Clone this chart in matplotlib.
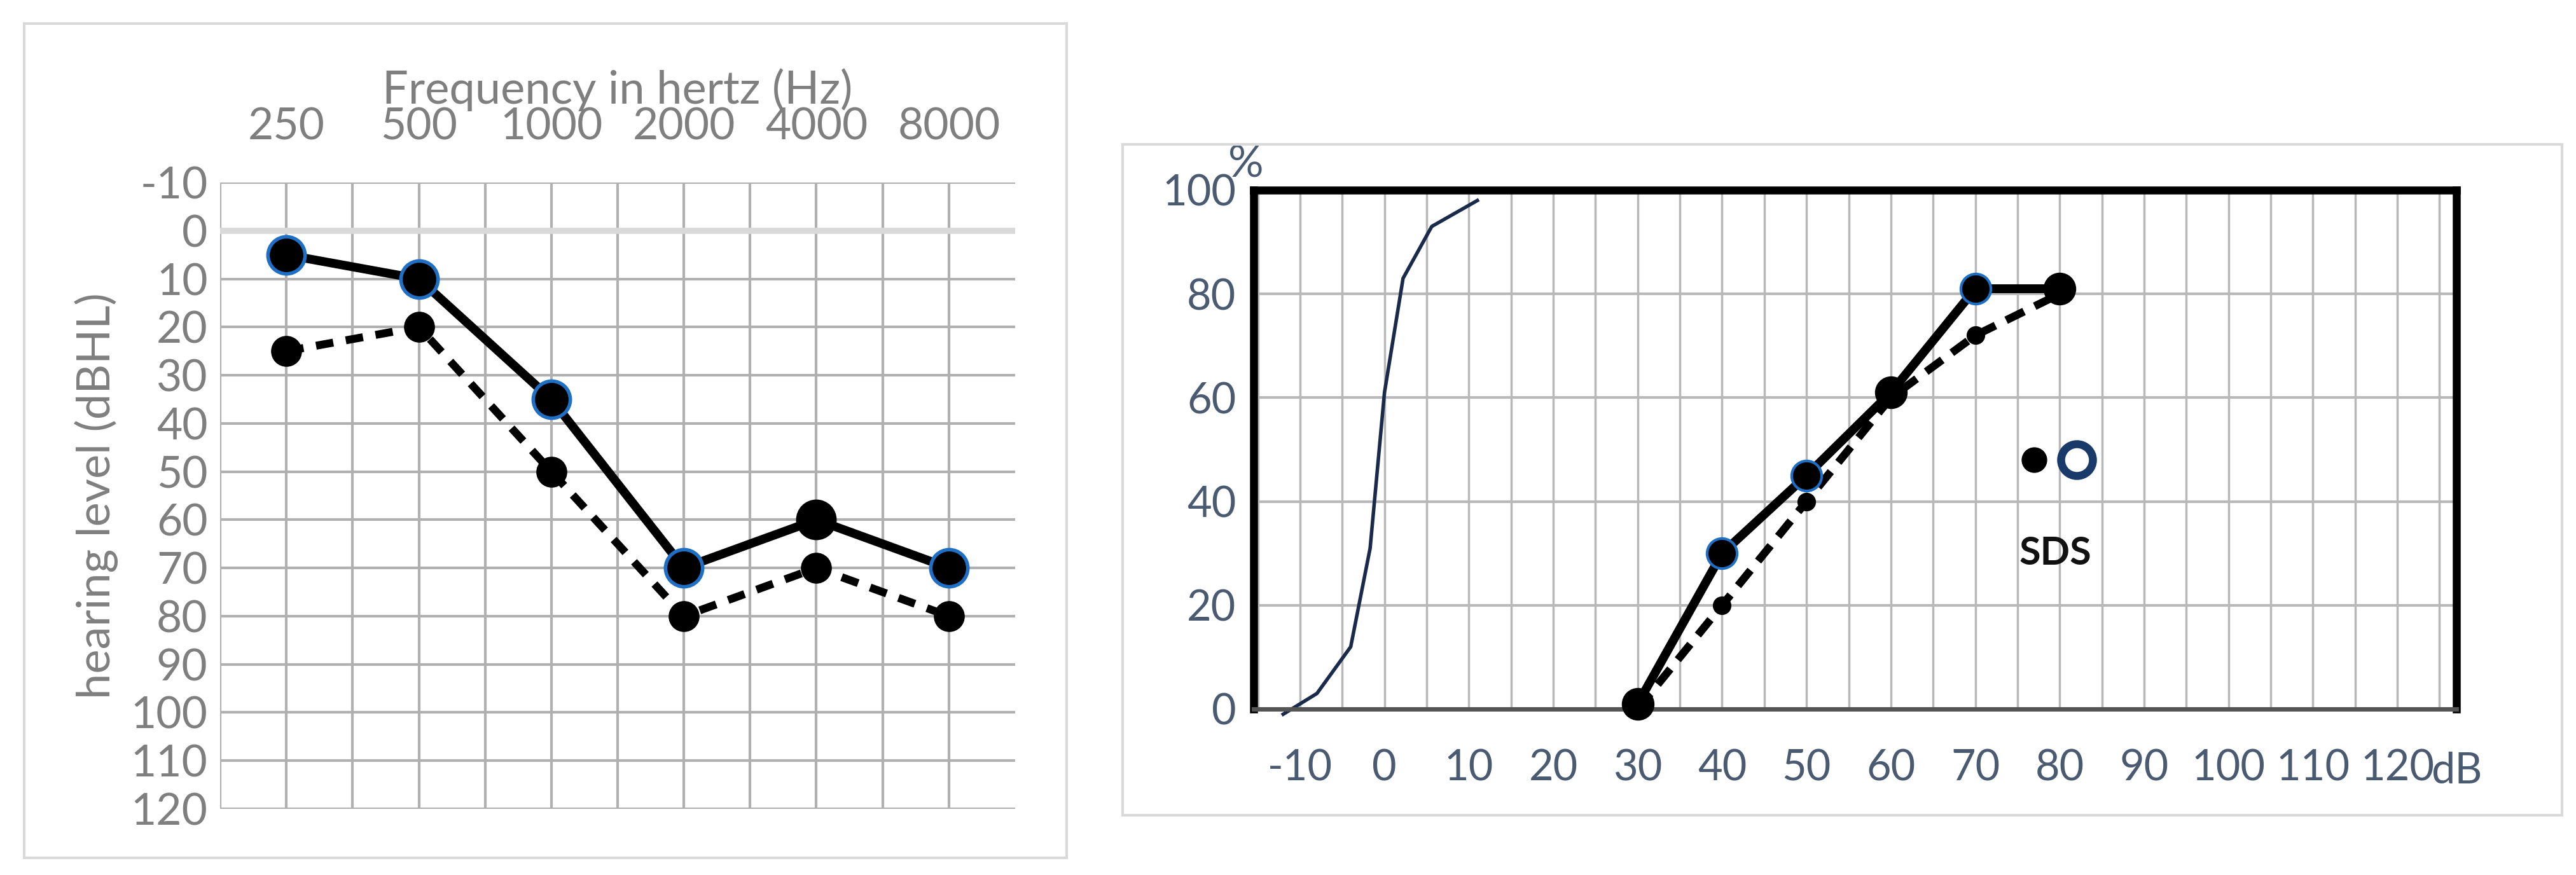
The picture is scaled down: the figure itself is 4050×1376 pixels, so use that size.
import matplotlib
matplotlib.use("Agg")
import matplotlib.pyplot as plt
from matplotlib.patches import Rectangle

W, H = 4050, 1376
# ---- left: audiogram data ----
freqs = ["250", "500", "1000", "2000", "4000", "8000"]
air_solid = [5, 10, 35, 70, 60, 70]
air_blue = [True, True, True, True, False, True]
bone_dashed = [25, 20, 50, 80, 70, 80]
yticks_l = list(range(-10, 121, 10))

# ---- right: speech audiometry data ----
norm_x = [-12, -8, -4, -1.7, 0, 2.2, 5.6, 11]
norm_y = [-1, 3, 12, 31, 61, 83, 93, 98]
sds_x = [30, 40, 50, 60, 70, 80]
sds_solid = [1, 30, 45, 61, 81, 81]
sds_blue = [False, True, True, False, True, False]
sds_dashed = [0, 20, 40, 60, 72, 80]
xticks_r = list(range(-10, 121, 10))
yticks_r = [0, 20, 40, 60, 80, 100]

plt.rcParams['font.family'] = ['Lato', 'DejaVu Sans']
plt.rcParams['axes.unicode_minus'] = False
fig = plt.figure(figsize=(W / 100, H / 100), dpi=100)

def ax_px(x0, y0, x1, y1):
    return fig.add_axes([x0 / W, 1 - y1 / H, (x1 - x0) / W, (y1 - y0) / H])

# panel borders
fig.patches.append(Rectangle((38 / W, 1 - 1349 / H), (1677 - 38) / W, (1349 - 37) / H,
                             transform=fig.transFigure, fill=False, ec="#d9d9d9", lw=3))
fig.patches.append(Rectangle((1765 / W, 1 - 1282 / H), (4028 - 1765) / W, (1282 - 227) / H,
                             transform=fig.transFigure, fill=False, ec="#d9d9d9", lw=3))

gray = "#7f7f7f"
ax = ax_px(346, 287, 1596, 1272)
xs = list(range(1, len(freqs) + 1))
ax.set_xlim(0.5, 6.5)
ax.set_ylim(120, -10)
for v in [i * 0.5 for i in range(1, 13)]:
    ax.axvline(v, color="#b0b0b0", lw=3, zorder=0)
for v in yticks_l:
    ax.axhline(v, color="#d9d9d9" if v == 0 else "#b0b0b0", lw=7 if v == 0 else 3, zorder=0)
for s in ax.spines.values():
    s.set_visible(False)
ax.plot(xs, bone_dashed, color="black", lw=9, ls=(0, (2.2, 1.6)), marker="o", ms=34, zorder=2)
ax.plot(xs, air_solid, color="black", lw=10, zorder=3)
for x, y, b in zip(xs, air_solid, air_blue):
    ax.plot(x, y, "o", color="black", ms=42, mec="#1f6fc5" if b else "black", mew=4, zorder=4)
ax.xaxis.tick_top()
ax.set_xticks(xs)
ax.set_xticklabels(freqs)
ax.set_yticks(yticks_l)
ax.tick_params(length=0, labelsize=50, colors=gray, pad=14)
ax.tick_params(axis="x", pad=40)
ax.xaxis.set_label_position("top")
ax.set_xlabel("Frequency in hertz (Hz)", fontsize=52, color=gray, labelpad=4)
ax.set_ylabel("hearing level (dBHL)", fontsize=52, color=gray, labelpad=14)

# ---- right panel ----
tc = "#4a5a70"
ax2 = ax_px(1971, 299, 3862, 1115)
ax2.set_xlim(-15.5, 127)
ax2.set_ylim(0, 100)
for v in range(-15, 127, 5):
    ax2.axvline(v, color="#b8b8b8", lw=2.5, zorder=0)
for v in yticks_r[1:-1]:
    ax2.axhline(v, color="#b8b8b8", lw=3, zorder=0)
for k, s in ax2.spines.items():
    s.set_linewidth(9)
ax2.spines["bottom"].set_linewidth(5)
ax2.spines["bottom"].set_color("#555555")
ax2.plot(norm_x, norm_y, color="#1a2a4a", lw=4, zorder=2, clip_on=False)
ax2.plot(sds_x, sds_dashed, color="black", lw=9, ls=(0, (2.5, 1.5)), marker="o", ms=20, zorder=2, clip_on=False)
ax2.plot(sds_x, sds_solid, color="black", lw=10, zorder=3, clip_on=False)
for x, y, b in zip(sds_x, sds_solid, sds_blue):
    ax2.plot(x, y, "o", color="black", ms=34, mec="#1f6fc5" if b else "black", mew=3, zorder=4, clip_on=False)
ax2.plot(77, 48, "o", color="black", ms=28, zorder=4)
ax2.plot(82, 48, "o", mfc="white", mec="#1a3a6a", ms=36, mew=9, zorder=4)
ax2.text(79.5, 30, "SDS", fontsize=44, fontweight="bold", color="#111", ha="center", va="center")
ax2.set_xticks(xticks_r)
ax2.set_yticks(yticks_r)
ax2.tick_params(length=0, labelsize=48, colors=tc, pad=20)
ax2.tick_params(axis="x", pad=45)
ax2.text(124, -8.2, "dB", fontsize=48, color=tc, ha="left", va="top")
ax2.text(-18.5, 101, "%", fontsize=50, color=tc, ha="left", va="bottom")

fig.savefig("out.png", dpi=100)
